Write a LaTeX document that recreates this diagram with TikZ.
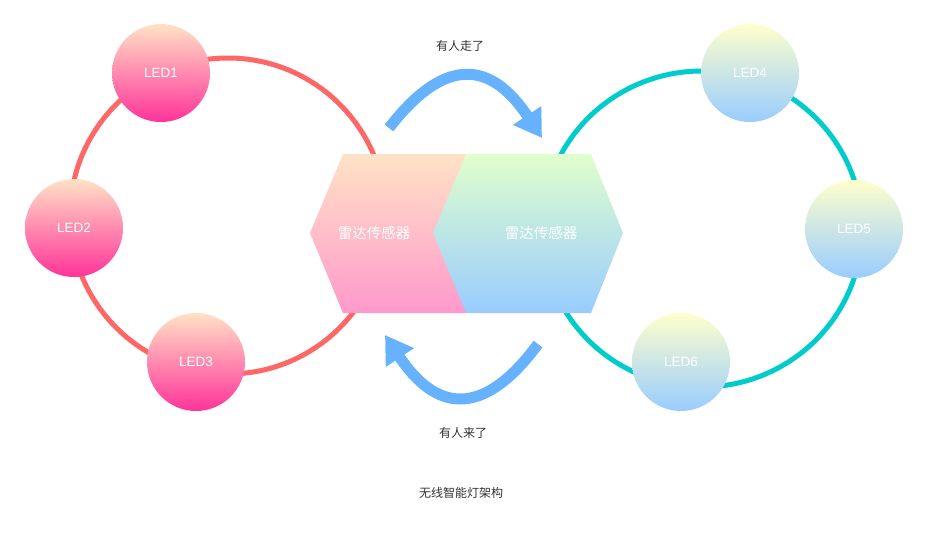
\documentclass[tikz,border=0pt]{standalone}
\usepackage{xcolor}
\usepackage{fontspec}
\setmainfont{Liberation Sans}
\newfontfamily\cjk{Noto Sans CJK SC}
\usepackage{tikz}
\usetikzlibrary{arrows.meta,shapes}

\definecolor{ringRed}{HTML}{FF6666}
\definecolor{ringCyan}{HTML}{00CCCC}
\definecolor{flowBlue}{HTML}{66B2FF}
\definecolor{peachTop}{HTML}{FFE2C6}
\definecolor{pinkBot}{HTML}{FF3399}
\definecolor{hexPinkBot}{HTML}{FF99CC}
\definecolor{creamTop}{HTML}{FFFFCC}
\definecolor{greenTop}{HTML}{E0FFCC}
\definecolor{skyBot}{HTML}{99CCFF}

\begin{document}
\begin{tikzpicture}[x=1pt,y=-1pt,
        led/.style={circle,minimum size=98pt,inner sep=0pt,text=white,font=\fontsize{13.5}{15}\selectfont},
        pinkled/.style={led,top color=peachTop,bottom color=pinkBot},
        blueled/.style={led,top color=creamTop,bottom color=skyBot},
        ring/.style={line width=5pt},
        flow/.style={flowBlue,line width=11pt,-{Triangle[length=27pt,width=32pt]}},
        radar/.style={text=white,font=\cjk\fontsize{14.5}{16}\selectfont},
        caption/.style={text=black!80,font=\cjk\fontsize{12}{14}\selectfont}]
        \useasboundingbox (0,0) rectangle (928,536);
        % the two rings
        \draw[ring,ringRed] (228,216) ellipse [x radius=158,y radius=158];
        \draw[ring,ringCyan] (702,229) ellipse [x radius=160,y radius=158];
        % radar sensors
        \shade[top color=peachTop,bottom color=hexPinkBot] (343,154) -- (468,154) -- (500,233) -- (468,313) -- (343,313) -- (310,233) -- cycle;
        \shade[top color=greenTop,bottom color=skyBot] (466,154) -- (591,154) -- (623,233) -- (591,313) -- (466,313) -- (433,233) -- cycle;
        \node[radar] (radarL) at (374,233) {雷达传感器};
        \node[radar] (radarR) at (541,233) {雷达传感器};
        % leds
        \node[pinkled] (led1) at (161,73) {LED1};
        \node[pinkled] (led2) at (74,228) {LED2};
        \node[pinkled] (led3) at (196,362) {LED3};
        \node[blueled] (led4) at (750,73) {LED4};
        \node[blueled] (led5) at (854,229) {LED5};
        \node[blueled] (led6) at (681,362) {LED6};
        % flows
        \coordinate (goA) at (389,128);
        \coordinate (goB) at (542,138);
        \coordinate (comeA) at (538,344);
        \coordinate (comeB) at (385,335);
        \draw[flow] (goA) .. controls (440,62) and (487,55) .. (goB);
        \draw[flow] (comeA) .. controls (488,412) and (440,418) .. (comeB);
        \node[caption] (leave) at (460,46) {有人走了};
        \node[caption] (arrive) at (463,433) {有人来了};
        \node[caption] (title) at (461,493) {无线智能灯架构};
\end{tikzpicture}
\end{document}
